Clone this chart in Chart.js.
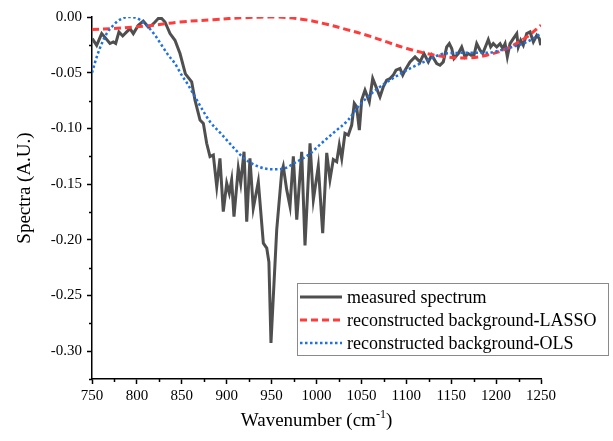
<!DOCTYPE html>
<html>
<head>
<meta charset="utf-8">
<script src="https://cdn.jsdelivr.net/npm/chart.js@4/dist/chart.umd.min.js"></script>
<style>
html,body{margin:0;padding:0;background:#fff;}
#c{display:block;}
</style>
</head>
<body>
<canvas id="c" width="613" height="441"></canvas>
<script>
// ---- data ----
const measuredX = [750.3,755.2,760.8,765.6,770.0,773.7,776.4,780.0,784.2,788.6,792.3,796.0,801.6,807.1,812.7,816.5,820.2,823.8,827.6,831.3,836.9,842.4,848.0,854.0,861.0,864.7,870.3,874.0,877.7,881.4,885.1,888.9,892.5,896.2,900.0,902.9,905.5,908.1,912.9,915.6,919.3,922.3,925.9,929.6,935.2,940.8,944.6,947.0,949.3,955.7,961.3,963.0,966.8,970.5,974.2,978.0,983.5,987.2,992.8,996.5,1002.0,1006.9,1011.4,1015.0,1018.7,1022.5,1025.4,1028.1,1031.7,1035.4,1039.2,1042.1,1044.7,1047.7,1050.3,1054.0,1058.8,1062.6,1066.3,1070.7,1074.4,1078.2,1081.9,1085.5,1088.5,1093.0,1096.0,1098.6,1104.1,1109.7,1115.3,1119.7,1124.5,1128.3,1133.9,1137.5,1141.2,1145.0,1147.9,1150.6,1153.1,1157.9,1161.7,1165.4,1169.0,1172.1,1175.4,1178.4,1182.1,1185.1,1188.8,1191.3,1194.0,1196.9,1200.7,1204.4,1207.4,1210.0,1212.5,1215.5,1219.2,1223.0,1224.7,1227.4,1230.3,1234.1,1237.8,1241.5,1245.3,1248.1,1249.7];
const measuredY = [-0.0194,-0.0254,-0.0149,-0.0194,-0.0238,-0.0224,-0.0238,-0.0134,-0.0170,-0.0134,-0.0104,-0.0149,-0.0074,-0.0036,-0.0090,-0.0074,-0.0045,-0.0014,-0.0014,-0.0045,-0.0149,-0.0209,-0.0328,-0.0510,-0.0582,-0.0746,-0.0925,-0.0955,-0.1134,-0.1254,-0.1239,-0.1523,-0.1269,-0.1747,-0.1493,-0.1582,-0.1463,-0.1792,-0.1358,-0.1493,-0.1210,-0.1837,-0.1269,-0.1717,-0.1478,-0.2030,-0.2075,-0.2200,-0.2927,-0.1910,-0.1390,-0.1340,-0.1550,-0.1700,-0.1250,-0.1820,-0.1210,-0.2050,-0.1134,-0.1640,-0.1340,-0.1940,-0.1220,-0.1460,-0.1280,-0.1300,-0.1150,-0.1270,-0.1045,-0.1060,-0.0970,-0.0776,-0.0806,-0.1015,-0.0746,-0.0657,-0.0761,-0.0552,-0.0627,-0.0717,-0.0627,-0.0567,-0.0552,-0.0522,-0.0478,-0.0462,-0.0522,-0.0478,-0.0403,-0.0358,-0.0403,-0.0328,-0.0403,-0.0343,-0.0418,-0.0433,-0.0403,-0.0269,-0.0239,-0.0283,-0.0373,-0.0328,-0.0269,-0.0358,-0.0328,-0.0343,-0.0343,-0.0239,-0.0298,-0.0328,-0.0254,-0.0203,-0.0269,-0.0239,-0.0269,-0.0239,-0.0283,-0.0239,-0.0358,-0.0239,-0.0194,-0.0149,-0.0269,-0.0209,-0.0254,-0.0149,-0.0134,-0.0224,-0.0164,-0.0194,-0.0254];

const lassoX = [750,773.7,796,818.3,848,885,920,955,985,1011.4,1033.7,1056,1078.2,1100.5,1122.7,1145,1167.3,1189.5,1211.8,1234.1,1250];
const lassoY = [-0.0113,-0.0104,-0.0090,-0.0074,-0.0045,-0.0024,-0.0006,0.0000,-0.0022,-0.0065,-0.0113,-0.0164,-0.0224,-0.0283,-0.0328,-0.0358,-0.0367,-0.0343,-0.0283,-0.0179,-0.0074];

const olsX = [750,755.2,760.8,766.3,773.7,781.2,790.4,797.9,805.3,812.7,820.2,827.6,835,842.4,849.9,857.2,864.7,872.1,881.4,894,908.5,919.6,934.5,951.6,964.6,975.7,990.7,1005.5,1020.4,1035.2,1046.4,1061.2,1076,1090.9,1105.7,1120.5,1142.8,1165,1189.5,1211.8,1234.1,1250];
const olsY = [-0.050,-0.036,-0.024,-0.015,-0.0074,-0.0024,0.0000,-0.0005,-0.0036,-0.0090,-0.0164,-0.0254,-0.0343,-0.0418,-0.0522,-0.0612,-0.0717,-0.0821,-0.0940,-0.1050,-0.1180,-0.1270,-0.1340,-0.1368,-0.1358,-0.1310,-0.1240,-0.1134,-0.1030,-0.0925,-0.0806,-0.0687,-0.0597,-0.0522,-0.0455,-0.0400,-0.0328,-0.0322,-0.0322,-0.0283,-0.0224,-0.0149];

const xTicks = [750,800,850,900,950,1000,1050,1100,1150,1200,1250];
const xMinorTicks = [775,825,875,925,975,1025,1075,1125,1175,1225];
const yTicks = [0,-0.05,-0.10,-0.15,-0.20,-0.25,-0.30];
const yMinorTicks = [-0.025,-0.075,-0.125,-0.175,-0.225,-0.275,-0.325];

const seriesNames = ['measured spectrum','reconstructed background-LASSO','reconstructed background-OLS'];
const xTitle = 'Wavenumber (cm';
const xTitleSup = '-1';
const yTitle = 'Spectra (A.U.)';

const zip = (xs, ys) => xs.map((x, i) => ({x: x, y: ys[i]}));
const FONT = '"Liberation Serif", "Times New Roman", serif';

const minorTicksAndTitles = {
  id: 'extras',
  afterDraw(chart) {
    const ctx = chart.ctx;
    const xs = chart.scales.x, ys = chart.scales.y;
    const area = chart.chartArea;
    ctx.save();
    ctx.strokeStyle = '#000';
    ctx.lineWidth = 1.5;
    ctx.beginPath();
    xMinorTicks.forEach(v => {
      const px = Math.round(xs.getPixelForValue(v)) + 0.5;
      ctx.moveTo(px, area.bottom);
      ctx.lineTo(px, area.bottom + 3);
    });
    yMinorTicks.forEach(v => {
      const py = Math.round(ys.getPixelForValue(v)) + 0.5;
      ctx.moveTo(area.left, py);
      ctx.lineTo(area.left - 3, py);
    });
    ctx.stroke();

    // axis titles
    ctx.fillStyle = '#000';
    ctx.font = '19px ' + FONT;
    ctx.textBaseline = 'alphabetic';
    const mainW = ctx.measureText(xTitle).width;
    ctx.font = '12px ' + FONT;
    const supW = ctx.measureText(xTitleSup).width;
    ctx.font = '19px ' + FONT;
    const closeW = ctx.measureText(')').width;
    const total = mainW + supW + closeW;
    const cx = (area.left + area.right) / 2;
    let x0 = cx - total / 2;
    const base = 426;
    ctx.textAlign = 'left';
    ctx.fillText(xTitle, x0, base);
    ctx.font = '12px ' + FONT;
    ctx.fillText(xTitleSup, x0 + mainW, base - 8);
    ctx.font = '19px ' + FONT;
    ctx.fillText(')', x0 + mainW + supW, base);

    ctx.save();
    ctx.translate(30, 188);
    ctx.rotate(-Math.PI / 2);
    ctx.textAlign = 'center';
    ctx.textBaseline = 'alphabetic';
    ctx.fillText(yTitle, 0, 0);
    ctx.restore();

    // legend
    const lx = 297.5, ly = 283.5, lw = 311, lh = 72;
    ctx.fillStyle = '#fff';
    ctx.fillRect(lx, ly, lw, lh);
    ctx.strokeStyle = '#8a8a8a';
    ctx.lineWidth = 1;
    ctx.setLineDash([]);
    ctx.strokeRect(lx, ly, lw, lh);
    const rows = [297, 320, 343];
    chart.data.datasets.forEach((ds, i) => {
      ctx.save();
      ctx.strokeStyle = ds.borderColor;
      ctx.lineWidth = ds.borderWidth;
      ctx.setLineDash(ds.borderDash || []);
      ctx.lineCap = 'butt';
      ctx.beginPath();
      ctx.moveTo(300, rows[i]);
      ctx.lineTo(342, rows[i]);
      ctx.stroke();
      ctx.restore();
      ctx.fillStyle = '#000';
      ctx.font = '18px ' + FONT;
      ctx.textAlign = 'left';
      ctx.textBaseline = 'middle';
      ctx.fillText(ds.label, 347, rows[i] + 1);
    });
    ctx.restore();
  }
};

new Chart(document.getElementById('c'), {
  type: 'line',
  data: {
    datasets: [
      {label: seriesNames[0], data: zip(measuredX, measuredY), borderColor: '#4f4f4f', borderWidth: 3, pointRadius: 0, tension: 0, order: 3, fill: false},
      {label: seriesNames[1], data: zip(lassoX, lassoY), borderColor: '#ff3c3c', borderWidth: 3, borderDash: [7, 4], pointRadius: 0, tension: 0.4, order: 2, fill: false},
      {label: seriesNames[2], data: zip(olsX, olsY), borderColor: '#1f6fe6', borderWidth: 2.5, borderDash: [2.5, 2.5], pointRadius: 0, cubicInterpolationMode: 'monotone', order: 1, fill: false}
    ]
  },
  options: {
    responsive: false,
    animation: false,
    devicePixelRatio: 1,
    layout: {padding: {left: 0, right: 72, top: 17, bottom: 0}},
    plugins: {legend: {display: false}, tooltip: {enabled: false}},
    scales: {
      x: {
        type: 'linear', min: 750, max: 1250,
        afterBuildTicks: s => { s.ticks = xTicks.map(v => ({value: v})); },
        afterFit: s => { s.height = 62; },
        grid: {display: true, drawOnChartArea: false, drawTicks: true, tickLength: 5, tickColor: '#000', tickWidth: 1.5},
        border: {display: true, color: '#000', width: 1.5},
        ticks: {color: '#000', padding: 3, maxRotation: 0, autoSkip: false, font: {family: FONT, size: 15}, callback: v => String(v)}
      },
      y: {
        type: 'linear', min: -0.325, max: 0,
        afterBuildTicks: s => { s.ticks = yTicks.map(v => ({value: v})); },
        afterFit: s => { s.width = 92; },
        grid: {display: true, drawOnChartArea: false, drawTicks: true, tickLength: 5, tickColor: '#000', tickWidth: 1.5},
        border: {display: true, color: '#000', width: 1.5},
        ticks: {color: '#000', padding: 5, autoSkip: false, font: {family: FONT, size: 15}, callback: v => v.toFixed(2)}
      }
    }
  },
  plugins: [minorTicksAndTitles]
});
</script>
</body>
</html>
